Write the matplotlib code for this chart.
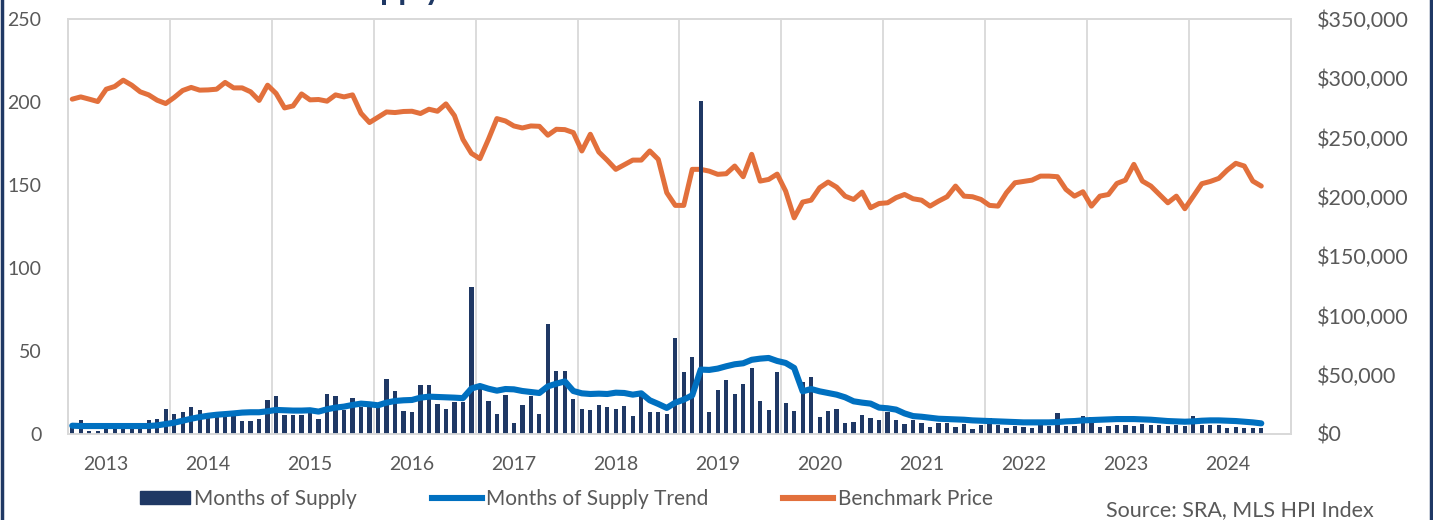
import numpy as np
import matplotlib.pyplot as plt
from matplotlib.patches import Patch
from matplotlib.lines import Line2D
from matplotlib.ticker import FuncFormatter

plt.rcParams['font.family'] = ['Lato', 'DejaVu Sans']

# monthly data, Sep 2012 .. May 2024
years = ['2013', '2014', '2015', '2016', '2017', '2018',
         '2019', '2020', '2021', '2022', '2023', '2024']

months_of_supply = [
    4.0, 8.2, 2.0, 1.7, 3.0, 3.0, 3.0, 3.0, 3.0, 8.2,
    9.0, 14.9, 11.8, 13.3, 16.2, 14.6, 11.8, 13.2, 10.8, 10.8,
    7.7, 7.9, 9.0, 20.6, 22.9, 11.5, 11.4, 11.4, 15.3, 8.8,
    24.3, 22.9, 14.5, 21.9, 16.5, 16.5, 16.5, 33.3, 25.7, 14.1,
    13.3, 29.3, 29.3, 18.1, 14.9, 19.5, 19.4, 88.6, 30.2, 19.6,
    12.2, 23.3, 6.8, 17.7, 22.7, 12.2, 66.3, 37.8, 38.2, 21.3,
    14.9, 14.3, 17.5, 16.5, 15.3, 17.1, 10.6, 22.7, 13.1, 13.1,
    11.8, 58.0, 37.3, 46.4, 200.6, 13.1, 26.3, 32.3, 24.1, 30.0,
    40.0, 20.0, 14.5, 37.3, 18.7, 13.9, 31.1, 34.5, 10.2, 13.9,
    15.1, 6.6, 7.0, 11.6, 9.8, 8.6, 13.3, 8.4, 5.8, 8.6,
    6.6, 4.4, 6.6, 6.6, 4.4, 6.2, 3.0, 5.6, 9.8, 5.6,
    3.4, 4.6, 4.4, 3.4, 8.2, 4.6, 12.6, 5.0, 5.0, 11.0,
    10.2, 4.2, 4.6, 5.6, 5.2, 4.8, 6.0, 5.6, 5.2, 5.0,
    5.2, 4.6, 11.0, 5.2, 5.2, 5.2, 3.8, 4.4, 3.8, 3.8,
    3.4]

supply_trend = [
    5.0, 4.8, 4.8, 4.8, 4.8, 4.8, 4.8, 4.8, 4.8, 4.8,
    5.2, 6.0, 6.8, 8.0, 9.2, 10.2, 11.0, 11.6, 12.0, 12.4,
    12.9, 13.1, 13.1, 13.7, 14.5, 14.3, 14.1, 14.1, 14.3, 13.5,
    14.9, 15.9, 16.5, 17.5, 18.3, 17.9, 17.3, 18.9, 19.9, 20.3,
    20.5, 21.9, 22.5, 22.3, 22.1, 21.9, 21.6, 27.4, 28.9, 27.3,
    26.1, 27.1, 26.9, 25.9, 25.3, 24.7, 28.7, 30.3, 31.7, 25.9,
    24.5, 24.1, 24.3, 24.1, 24.9, 24.7, 23.7, 24.5, 20.3, 18.1,
    15.7, 18.9, 20.7, 23.3, 38.8, 38.6, 39.4, 40.8, 42.0, 42.6,
    44.7, 45.4, 45.8, 44.0, 42.8, 39.8, 25.7, 27.1, 25.7, 24.7,
    23.7, 22.1, 19.7, 18.9, 18.3, 15.9, 15.5, 14.7, 12.4, 10.8,
    10.4, 9.8, 9.2, 9.0, 8.8, 8.6, 8.2, 8.0, 7.8, 7.6,
    7.4, 7.2, 7.0, 7.0, 7.0, 7.0, 7.2, 7.6, 7.8, 8.2,
    8.4, 8.6, 8.8, 9.0, 9.0, 9.0, 8.8, 8.6, 8.2, 7.8,
    7.6, 7.4, 7.6, 8.0, 8.2, 8.2, 8.0, 7.8, 7.4, 7.0,
    6.4]

# benchmark price in $ thousands
benchmark_price = [
    282.4, 284.3, 282.4, 280.4, 290.8, 293.1, 298.4, 294.2, 288.6, 286.0,
    281.5, 278.7, 283.8, 289.7, 292.3, 290.0, 290.2, 290.8, 296.5, 291.9,
    291.9, 288.6, 281.3, 294.2, 287.2, 275.0, 276.7, 286.8, 281.8, 282.1,
    280.7, 286.0, 284.3, 286.0, 270.5, 262.7, 267.1, 271.6, 271.1, 272.0,
    272.2, 270.3, 273.9, 272.2, 278.4, 268.5, 248.5, 236.7, 232.2, 248.5,
    266.0, 264.0, 259.8, 258.1, 259.8, 259.5, 252.0, 257.0, 256.7, 254.2,
    238.7, 252.8, 237.8, 230.8, 223.2, 227.1, 231.0, 231.0, 238.7, 231.6,
    203.5, 192.8, 192.8, 223.2, 223.2, 221.7, 219.0, 219.5, 226.0, 217.0,
    235.9, 213.3, 214.7, 219.2, 204.8, 182.3, 195.6, 197.2, 207.7, 212.5,
    208.2, 200.6, 197.8, 204.0, 190.8, 194.4, 195.0, 199.3, 202.0, 198.4,
    197.2, 192.2, 196.4, 200.1, 209.1, 200.6, 200.1, 197.8, 192.8, 192.2,
    203.5, 211.9, 213.0, 214.1, 217.5, 217.5, 217.0, 206.3, 200.6, 204.3,
    192.2, 200.6, 202.0, 211.3, 214.1, 227.4, 213.3, 209.1, 202.0, 195.0,
    200.6, 190.0, 200.6, 211.1, 213.0, 215.6, 222.6, 228.3, 226.0, 213.3,
    209.1]

navy = '#1f3864'
blue = '#0070c0'
orange = '#e2703c'
grey_txt = '#595959'
grid_col = '#d9d9d9'

x = np.arange(len(months_of_supply))
price = np.array(benchmark_price) * 1000

fig = plt.figure(figsize=(14.33, 5.2), dpi=100)
ax = fig.add_axes([68 / 1433, 86 / 520, 1223 / 1433, 415 / 520])
ax2 = ax.twinx()
ax.set_zorder(ax2.get_zorder() + 1)
ax.patch.set_visible(False)

# year gridlines behind everything
for g in np.arange(11.5, 140, 12):
    ax2.axvline(g, color=grid_col, lw=1.3, zorder=0)

ax2.plot(x, price, color=orange, lw=3.6, solid_joinstyle='round', solid_capstyle='round')
ax.bar(x, months_of_supply, width=0.5, color=navy, zorder=2)
ax.plot(x, supply_trend, color=blue, lw=4.4, solid_joinstyle='round', solid_capstyle='round', zorder=3)

ax.set_xlim(-0.5, 143.5)
ax.set_ylim(0, 250)
ax2.set_ylim(0, 350000)
ax.set_yticks(np.arange(0, 251, 50))
ax2.set_yticks(np.arange(0, 350001, 50000))
ax2.yaxis.set_major_formatter(FuncFormatter(lambda v, p: '${:,.0f}'.format(v)))

ax.set_xticks(4 + 12 * np.arange(len(years)))
ax.set_xticklabels(years)

ax.tick_params(axis='y', length=0, pad=19, labelsize=14, labelcolor=grey_txt)
ax.tick_params(axis='x', length=0, pad=16, labelsize=14, labelcolor=grey_txt)
ax2.tick_params(axis='y', length=0, pad=19, labelsize=15.5, labelcolor=grey_txt)

for a in (ax, ax2):
    for s in a.spines.values():
        s.set_color(grid_col)
        s.set_linewidth(1.3)

handles = [Patch(facecolor=navy, edgecolor=navy),
           Line2D([], [], color=blue, lw=4.4),
           Line2D([], [], color=orange, lw=4.4)]
fig.legend(handles, ['Months of Supply', 'Months of Supply Trend', 'Benchmark Price'],
           loc='center left', bbox_to_anchor=(140 / 1433, 1 - 499 / 520), ncol=3,
           frameon=False, handlelength=2.4, handleheight=0.6, handletextpad=0.2,
           columnspacing=3.6, borderpad=0, borderaxespad=0, fontsize=15,
           labelcolor=grey_txt)

fig.text(1106 / 1433, 1 - 510 / 520, 'Source: SRA, MLS HPI Index', ha='left', va='center',
         fontsize=15.5, color=grey_txt)

# title cut off at the top of the picture
fig.text(441 / 1433, 1.0, 'Months of Supply', ha='right', va='baseline',
         fontsize=23, fontweight='bold', color=navy)

# dark frame on the sides
fig.add_artist(Line2D([1.5 / 1433, 1.5 / 1433], [0, 1], transform=fig.transFigure, color=navy, lw=2.5))
fig.add_artist(Line2D([1431 / 1433, 1431 / 1433], [0, 1], transform=fig.transFigure, color=navy, lw=2.5))

fig.savefig('out.png', dpi=100)
